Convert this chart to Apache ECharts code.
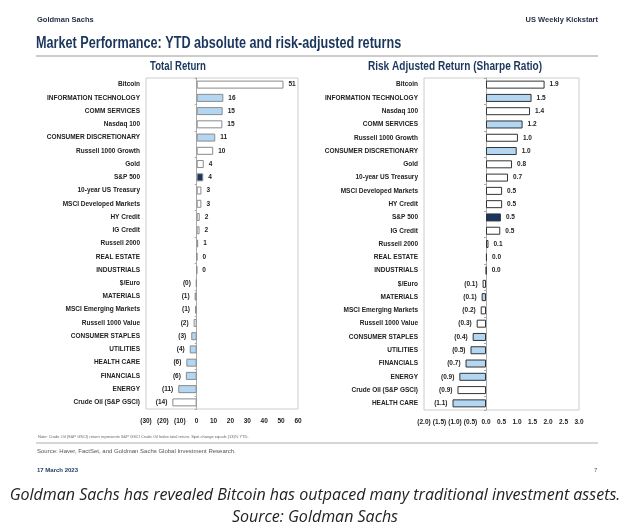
<!DOCTYPE html>
<html><head><meta charset="utf-8">
<script src="https://cdn.jsdelivr.net/npm/echarts@6/dist/echarts.min.js"></script>
<style>html,body{margin:0;padding:0;background:#fff;}#c{width:630px;height:525px;}</style>
</head><body><div id="c"></div>
<script>
// ---- Data ----
const leftCategories = ["Bitcoin","INFORMATION TECHNOLOGY","COMM SERVICES","Nasdaq 100","CONSUMER DISCRETIONARY","Russell 1000 Growth","Gold","S&P 500","10-year US Treasury","MSCI Developed Markets","HY Credit","IG Credit","Russell 2000","REAL ESTATE","INDUSTRIALS","$/Euro","MATERIALS","MSCI Emerging Markets","Russell 1000 Value","CONSUMER STAPLES","UTILITIES","HEALTH CARE","FINANCIALS","ENERGY","Crude Oil (S&P GSCI)"];
const leftValues = [51.4,15.8,15.4,15.2,11.0,9.8,4.2,3.9,2.8,2.8,1.8,1.7,0.9,0.3,0.2,-0.4,-1.2,-1.0,-1.8,-3.2,-4.1,-6.1,-6.4,-10.9,-14.4];
const rightCategories = ["Bitcoin","INFORMATION TECHNOLOGY","Nasdaq 100","COMM SERVICES","Russell 1000 Growth","CONSUMER DISCRETIONARY","Gold","10-year US Treasury","MSCI Developed Markets","HY Credit","S&P 500","IG Credit","Russell 2000","REAL ESTATE","INDUSTRIALS","$/Euro","MATERIALS","MSCI Emerging Markets","Russell 1000 Value","CONSUMER STAPLES","UTILITIES","FINANCIALS","ENERGY","Crude Oil (S&P GSCI)","HEALTH CARE"];
const rightValues = [1.89,1.47,1.42,1.18,1.03,0.99,0.84,0.71,0.52,0.52,0.48,0.46,0.08,0.03,0.01,-0.11,-0.14,-0.17,-0.30,-0.43,-0.50,-0.66,-0.86,-0.92,-1.08];
const leftTicks = ["(30)","(20)","(10)","0","10","20","30","40","50","60"];
const rightTicks = ["(2.0)","(1.5)","(1.0)","(0.5)","0.0","0.5","1.0","1.5","2.0","2.5","3.0"];
const sectorNames = ["INFORMATION TECHNOLOGY","COMM SERVICES","CONSUMER DISCRETIONARY","REAL ESTATE","INDUSTRIALS","MATERIALS","CONSUMER STAPLES","UTILITIES","HEALTH CARE","FINANCIALS","ENERGY"];
const benchmarkName = "S&P 500";

// ---- Styles ----
const FONT = '"Liberation Sans", Arial, sans-serif';
const NAVY = '#1b365d';
const BLUE = '#b3d6f3';

function fmtL(v){ const r=Math.round(Math.abs(v)); return v<0 ? '('+r+')' : String(r); }
function fmtR(v){ const r=Math.abs(v).toFixed(1); return v<0 ? '('+r+')' : r; }

function buildData(cats, vals, border, fmt){
  return vals.map((v,i)=>{
    const name = cats[i];
    let fill = '#ffffff';
    if (name === benchmarkName) fill = NAVY;
    else if (sectorNames.indexOf(name) >= 0) fill = BLUE;
    return {
      value: v,
      itemStyle: {color: fill, borderColor: border, borderWidth: 1},
      label: {show: true, position: v < 0 ? 'left' : 'right', distance: 5,
              formatter: ()=>fmt(v), fontSize: 6.5, fontWeight: 'bold', color: '#222', fontFamily: FONT}
    };
  });
}

function makeAxes(gridIndex, cats, min, max, interval, ticks){
  const x = {
    type: 'value', gridIndex, min, max, interval,
    splitLine: {show: false},
    axisLine: {show: false}, axisTick: {show: false},
    axisLabel: {fontSize: 6.5, fontWeight: 'bold', color: '#222', fontFamily: FONT, margin: 9,
      formatter: (v)=>{ const idx = Math.round((v-min)/interval); return ticks[idx] !== undefined ? ticks[idx] : ''; }}
  };
  const y0 = {
    type: 'category', gridIndex, data: cats, inverse: true,
    axisLine: {show: true, onZero: true, lineStyle: {color: '#aaa', width: 1}},
    axisTick: {show: true, length: 2, lineStyle: {color: '#aaa'}},
    axisLabel: {show: false}
  };
  const y1 = {
    type: 'category', gridIndex, data: cats, inverse: true, position: 'left',
    axisLine: {show: false, onZero: false}, axisTick: {show: false},
    axisLabel: {show: true, fontSize: 6.5, fontWeight: 'bold', color: '#222', fontFamily: FONT, margin: 6, interval: 0}
  };
  return {x, y0, y1};
}

const L = makeAxes(0, leftCategories, -30, 60, 10, leftTicks);
const R = makeAxes(1, rightCategories, -2, 3, 0.5, rightTicks);

const chart = echarts.init(document.getElementById('c'), null, {renderer: 'canvas'});
chart.setOption({
  backgroundColor: '#fff',
  animation: false,
  grid: [
    {left: 146, top: 78, width: 152, height: 331, show: true, borderColor: '#ccc', borderWidth: 1, backgroundColor: 'transparent'},
    {left: 424, top: 78, width: 155, height: 332, show: true, borderColor: '#ccc', borderWidth: 1, backgroundColor: 'transparent'}
  ],
  xAxis: [L.x, R.x],
  yAxis: [L.y0, L.y1, R.y0, R.y1],
  series: [
    {type: 'bar', xAxisIndex: 0, yAxisIndex: 0, barWidth: 8, data: buildData(leftCategories, leftValues, '#8a8a8a', fmtL)},
    {type: 'bar', xAxisIndex: 1, yAxisIndex: 2, barWidth: 8, data: buildData(rightCategories, rightValues, '#333', fmtR)}
  ],
  graphic: [
    {type: 'text', x: 37, y: 16, style: {text: 'Goldman Sachs', font: 'bold 7.5px ' + FONT, fill: '#1f2a44'}},
    {type: 'text', x: 598, y: 16, style: {text: 'US Weekly Kickstart', font: 'bold 7.5px ' + FONT, fill: '#1f2a44', textAlign: 'right'}},
    {type: 'text', x: 36, y: 36, scaleX: 0.79, style: {text: 'Market Performance: YTD absolute and risk-adjusted returns', font: 'bold 16px ' + FONT, fill: NAVY}},
    {type: 'line', shape: {x1: 36, y1: 56, x2: 598, y2: 56}, style: {stroke: '#9a9a9a', lineWidth: 1.2}},
    {type: 'text', x: 178, y: 61, scaleX: 0.8, style: {text: 'Total Return', font: 'bold 12px ' + FONT, fill: NAVY, textAlign: 'center'}},
    {type: 'text', x: 455, y: 61, scaleX: 0.84, style: {text: 'Risk Adjusted Return (Sharpe Ratio)', font: 'bold 12px ' + FONT, fill: NAVY, textAlign: 'center'}},
    {type: 'text', x: 38, y: 435, style: {text: 'Note: Crude Oil (S&P GSCI) return represents S&P GSCI Crude Oil Index total return. Spot change equals (13)% YTD.', font: '4px ' + FONT, fill: '#666'}},
    {type: 'line', shape: {x1: 36, y1: 443, x2: 598, y2: 443}, style: {stroke: '#c8c8c8', lineWidth: 1.5}},
    {type: 'text', x: 37, y: 448, style: {text: 'Source: Haver, FactSet, and Goldman Sachs Global Investment Research.', font: '6px ' + FONT, fill: '#555'}},
    {type: 'text', x: 37, y: 467, style: {text: '17 March 2023', font: 'bold 6px ' + FONT, fill: NAVY}},
    {type: 'text', x: 594, y: 467, style: {text: '7', font: '6px ' + FONT, fill: '#555'}},
    {type: 'text', x: 315, y: 487, style: {text: 'Goldman Sachs has revealed Bitcoin has outpaced many traditional investment assets.', font: 'italic 16px "Open Sans", sans-serif', fill: '#222', textAlign: 'center'}},
    {type: 'text', x: 315, y: 509, style: {text: 'Source: Goldman Sachs', font: 'italic 16px "Open Sans", sans-serif', fill: '#222', textAlign: 'center'}}
  ]
});
</script></body></html>
